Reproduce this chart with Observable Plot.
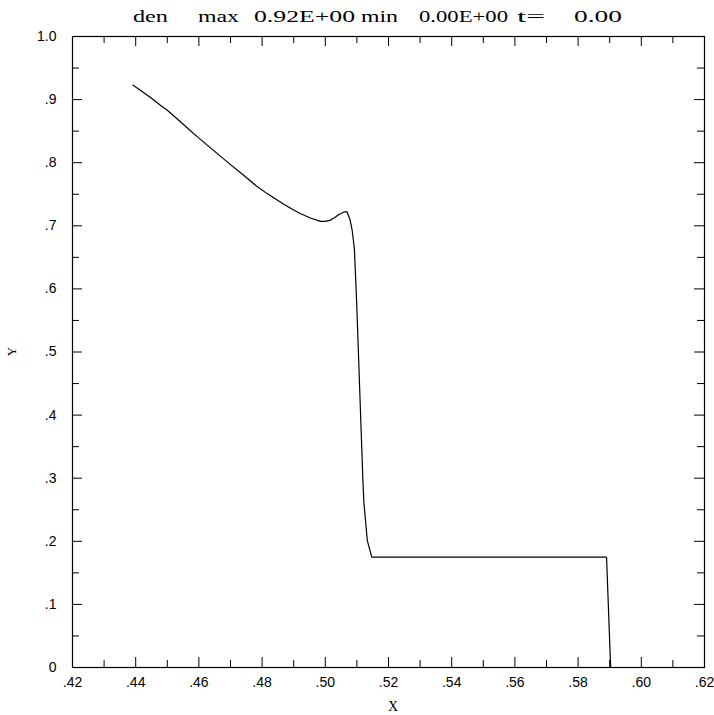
<!DOCTYPE html>
<html>
<head>
<meta charset="utf-8">
<script src="https://cdn.jsdelivr.net/npm/d3@7"></script>
<script src="https://cdn.jsdelivr.net/npm/@observablehq/plot@0.6"></script>
<style>
  html, body { margin: 0; padding: 0; background: #fff; }
  #chart { width: 714px; height: 715px; }
</style>
</head>
<body>
<div id="chart"></div>
<script>
// ---- data ----
const xValues = [0.4391, 0.4420, 0.4450, 0.4478, 0.4500, 0.4530, 0.4568, 0.4600, 0.4650, 0.4700, 0.4732, 0.4780, 0.4816,
  0.4866, 0.4900, 0.4922, 0.4955, 0.4985, 0.5000, 0.5016, 0.5030, 0.5043, 0.5059, 0.5069, 0.5078, 0.5085, 0.5092,
  0.5099, 0.5119, 0.5122, 0.5133, 0.5147, 0.5890, 0.5903, 0.6035];
const yValues = [0.923, 0.913, 0.902, 0.891, 0.883, 0.870, 0.853, 0.839, 0.818, 0.797, 0.784, 0.764, 0.751,
  0.735, 0.725, 0.719, 0.712, 0.707, 0.707, 0.709, 0.713, 0.718, 0.722, 0.722, 0.710, 0.693, 0.664,
  0.582, 0.296, 0.262, 0.201, 0.175, 0.175, 0.000, 0.000];

const xMajor = [0.42, 0.44, 0.46, 0.48, 0.50, 0.52, 0.54, 0.56, 0.58, 0.60, 0.62];
const xLabels = [".42", ".44", ".46", ".48", ".50", ".52", ".54", ".56", ".58", ".60", ".62"];
const xMinor = [0.43, 0.45, 0.47, 0.49, 0.51, 0.53, 0.55, 0.57, 0.59, 0.61];
const yMajor = [0, 0.1, 0.2, 0.3, 0.4, 0.5, 0.6, 0.7, 0.8, 0.9, 1.0];
const yLabels = ["0", ".1", ".2", ".3", ".4", ".5", ".6", ".7", ".8", ".9", "1.0"];
const yMinor = [0.05, 0.15, 0.25, 0.35, 0.45, 0.55, 0.65, 0.75, 0.85, 0.95];

const titleWords = ["den", "max", "0.92E+00", "min", "0.00E+00", "t=", "0.00"];
const xTitle = "X";
const yTitle = "Y";

const points = xValues.map((x, i) => ({x, y: yValues[i]}));

const W = 714, H = 715, mL = 72, mR = 10, mT = 36, mB = 48;
const fw = W - mL - mR, fh = H - mT - mB;
const majorLen = 10, minorLen = 7;

const chart = Plot.plot({
  width: W, height: H,
  marginLeft: mL, marginRight: mR, marginTop: mT, marginBottom: mB,
  style: {fontFamily: "'Liberation Sans', Arial, sans-serif", fontSize: "14px", background: "#fff", color: "#000"},
  x: {domain: [0.42, 0.62]},
  y: {domain: [0, 1]},
  marks: [
    Plot.frame({stroke: "#000", strokeWidth: 1.2}),
    Plot.tickX(xMajor, {x: d => d, insetTop: fh - majorLen, stroke: "#000"}),
    Plot.tickX(xMinor, {x: d => d, insetTop: fh - minorLen, stroke: "#000"}),
    Plot.tickX(xMajor, {x: d => d, insetBottom: fh - majorLen, stroke: "#000"}),
    Plot.tickX(xMinor, {x: d => d, insetBottom: fh - minorLen, stroke: "#000"}),
    Plot.tickY(yMajor, {y: d => d, insetRight: fw - majorLen, stroke: "#000"}),
    Plot.tickY(yMinor, {y: d => d, insetRight: fw - minorLen, stroke: "#000"}),
    Plot.tickY(yMajor, {y: d => d, insetLeft: fw - majorLen, stroke: "#000"}),
    Plot.tickY(yMinor, {y: d => d, insetLeft: fw - minorLen, stroke: "#000"}),
    Plot.axisX({ticks: xMajor, tickFormat: d => xLabels[xMajor.indexOf(d)], tickSize: 0, tickPadding: 10, label: null, fontSize: 14}),
    Plot.axisY({ticks: yMajor, tickFormat: d => yLabels[yMajor.indexOf(d)], tickSize: 0, tickPadding: 16, label: null, fontSize: 14}),
    Plot.line(points, {x: "x", y: "y", stroke: "#000", strokeWidth: 1.2, curve: "linear"})
  ]
});

const svg = d3.select(chart);
const titlePos = [133, 198, 254, 361, 419, 517, 574];
const titleLen = [35, 41, 101, 37, 89, 28, 48];
const tg = svg.append("g")
  .attr("text-anchor", "start")
  .attr("font-family", "'Liberation Serif', 'Times New Roman', serif")
  .attr("font-size", 16)
  .attr("fill", "#000");
titleWords.forEach((w, i) => {
  tg.append("text")
    .attr("x", titlePos[i])
    .attr("y", 22)
    .attr("text-anchor", "start")
    .attr("textLength", titleLen[i])
    .attr("lengthAdjust", "spacingAndGlyphs")
    .text(w);
});
svg.append("text")
  .attr("x", mL + fw / 2 + 5).attr("y", 711)
  .attr("text-anchor", "middle")
  .attr("font-family", "'Liberation Serif', 'Times New Roman', serif")
  .attr("font-size", 14)
  .attr("fill", "#000")
  .text(xTitle);
svg.append("text")
  .attr("transform", `translate(16, ${mT + fh / 2}) rotate(-90)`)
  .attr("text-anchor", "middle")
  .attr("font-family", "'Liberation Serif', 'Times New Roman', serif")
  .attr("font-size", 13)
  .attr("fill", "#000")
  .text(yTitle);

document.getElementById("chart").appendChild(chart);
</script>
</body>
</html>
